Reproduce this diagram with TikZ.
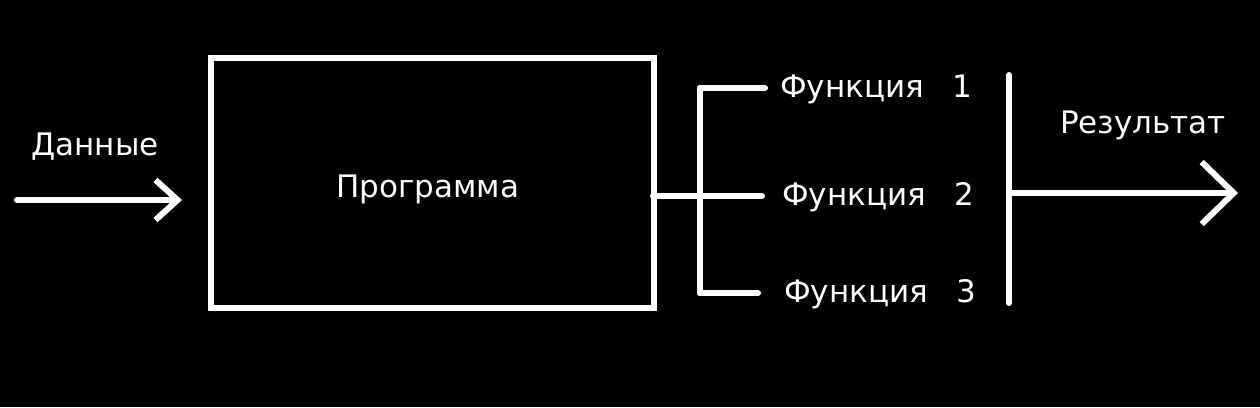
\documentclass[tikz,border=0pt]{standalone}
\usepackage{fontspec}
\setmainfont{DejaVu Sans}
\usetikzlibrary{arrows.meta}

\begin{document}
\begin{tikzpicture}[x=1pt, y=-1pt]
  \tikzstyle{trait}=[white, line width=6pt, line cap=round];
  \tikzstyle{fleche}=[trait, -{Straight Barb[length=22pt, width=40pt]}];
  \tikzstyle{grandefleche}=[trait, -{Straight Barb[length=32pt, width=62pt]}];
  \tikzstyle{texte}=[text=white, font=\fontsize{31}{34}\selectfont, inner sep=0, anchor=base];

  \fill[black] (0, 0) rectangle (1260, 407);
  \useasboundingbox (0, 0) rectangle (1260, 407);

  \node[draw=white, line width=6pt, minimum width=443pt, minimum height=250pt, inner sep=0] (P) at (432, 183) {};
  \node[texte] (Pt) at (428, 197) {Программа};

  \coordinate (E) at (17, 200);
  \coordinate (Ef) at (182, 200);
  \draw[fleche] (E) -- (Ef);
  \node[texte] (D) at (95, 155) {Данные};

  \coordinate (S) at (653, 196);
  \foreach \i/\y/\x/\t in {1/88/765/780, 2/196/762/782, 3/293/758/784} {
    \coordinate (B\i) at (700, \y);
    \coordinate (L\i) at (\x, \y);
    \node[texte, anchor=base west] (F\i) at (\t, \y + 9) {Функция\hspace{0.9em}\i};
    \draw[trait] (B\i) -- (L\i);
  }
  \draw[trait] (B1) -- (B3);
  \draw[trait] (S) -- (B2);

  \coordinate (R1) at (1009, 75);
  \coordinate (R2) at (1009, 303);
  \coordinate (R) at (1009, 193);
  \coordinate (Rf) at (1238, 193);
  \draw[trait] (R1) -- (R2);
  \draw[grandefleche] (R) -- (Rf);
  \node[texte] (Res) at (1143, 133) {Результат};
\end{tikzpicture}
\end{document}
